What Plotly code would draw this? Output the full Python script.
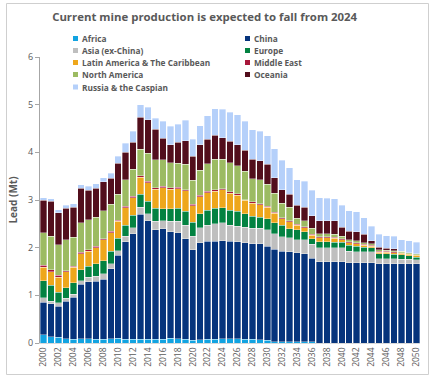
import plotly.graph_objects as go

years = list(range(2000, 2051))

africa = [0.17,0.13,0.12,0.09,0.08,0.09,0.09,0.08,0.08,0.09,
          0.10,0.08,0.08,0.08,0.08,0.08,0.08,0.10,0.09,0.08,
          0.06,0.07,0.08,0.08,0.09,0.09,0.09,0.08,0.08,0.07,
          0.06,0.03,0.03,0.03,0.03,0.03,0.03,0,0,0,
          0,0,0,0,0,0,0,0,0,0,0]
china = [0.69,0.69,0.65,0.79,0.88,1.14,1.19,1.22,1.26,1.47,
         1.74,2.04,2.21,2.62,2.48,2.30,2.32,2.23,2.22,2.11,
         1.90,2.03,2.05,2.05,2.06,2.04,2.03,2.02,2.00,2.01,
         1.97,1.94,1.89,1.88,1.86,1.84,1.75,1.70,1.70,1.70,
         1.70,1.68,1.68,1.68,1.68,1.66,1.66,1.66,1.66,1.66,1.66]
asia = [0.09,0.06,0.07,0.06,0.06,0.08,0.10,0.10,0.11,0.10,
        0.10,0.12,0.13,0.15,0.15,0.17,0.17,0.22,0.24,0.28,
        0.28,0.32,0.34,0.37,0.37,0.34,0.33,0.33,0.33,0.33,
        0.35,0.32,0.31,0.30,0.28,0.30,0.29,0.30,0.30,0.30,
        0.30,0.25,0.23,0.23,0.23,0.11,0.11,0.11,0.10,0.10,0.09]
europe = [0.36,0.33,0.23,0.22,0.24,0.23,0.23,0.26,0.28,0.26,
          0.26,0.23,0.26,0.27,0.26,0.28,0.25,0.27,0.28,0.29,
          0.29,0.29,0.31,0.33,0.32,0.31,0.31,0.28,0.25,0.23,
          0.23,0.23,0.24,0.19,0.21,0.16,0.12,0.12,0.12,0.11,
          0.11,0.12,0.12,0.10,0.09,0.10,0.10,0.09,0.09,0.07,0.05]
latam = [0.28,0.29,0.31,0.33,0.33,0.33,0.32,0.34,0.44,0.39,
         0.35,0.37,0.37,0.36,0.39,0.40,0.44,0.41,0.41,0.43,
         0.35,0.36,0.37,0.35,0.37,0.36,0.34,0.28,0.27,0.26,
         0.24,0.20,0.14,0.14,0.09,0.09,0.07,0.09,0.09,0.09,
         0.06,0.05,0.05,0.04,0.03,0.03,0.03,0.03,0.03,0.03,0.04]
mideast = [0.04,0.04,0.04,0.03,0.02,0.03,0.03,0.03,0.02,0.03,
           0.03,0.03,0.03,0.03,0.03,0.03,0.03,0.03,0.03,0.02,
           0.03,0.03,0.03,0.04,0.03,0.03,0.03,0.02,0.03,0.02,
           0.02,0.02,0.02,0.02,0.02,0.02,0.02,0.02,0.02,0.02,
           0.02,0.02,0.02,0.02,0.02,0.02,0.02,0.02,0.01,0.01,0.01]
namerica = [0.68,0.70,0.64,0.65,0.61,0.62,0.63,0.61,0.58,0.57,
            0.54,0.56,0.56,0.56,0.59,0.58,0.55,0.52,0.50,0.54,
            0.50,0.52,0.58,0.64,0.62,0.61,0.59,0.59,0.49,0.50,
            0.46,0.40,0.30,0.29,0.13,0.13,0.13,0.06,0.06,0.06,
            0.05,0.05,0.05,0.03,0.03,0.04,0.03,0.03,0.04,0.02,0.02]
oceania = [0.68,0.73,0.67,0.66,0.63,0.73,0.61,0.61,0.61,0.55,
           0.65,0.57,0.57,0.67,0.70,0.64,0.46,0.38,0.44,0.49,
           0.51,0.54,0.51,0.50,0.45,0.45,0.44,0.44,0.40,0.40,
           0.42,0.33,0.29,0.27,0.27,0.28,0.26,0.28,0.28,0.28,
           0.19,0.17,0.18,0.18,0.07,0.05,0.04,0.04,0.00,0.00,0.00]
russia = [0.06,0.06,0.07,0.06,0.07,0.07,0.09,0.09,0.09,0.10,
          0.15,0.19,0.23,0.26,0.27,0.24,0.35,0.39,0.38,0.43,
          0.35,0.40,0.50,0.55,0.59,0.61,0.63,0.61,0.62,0.62,
          0.60,0.61,0.61,0.56,0.53,0.54,0.53,0.48,0.47,0.47,
          0.46,0.43,0.42,0.35,0.30,0.27,0.26,0.26,0.24,0.26,0.24]

series_names = ["Africa", "China", "Asia (ex-China)", "Europe",
                "Latin America & The Caribbean", "Middle East",
                "North America", "Oceania", "Russia & the Caspian"]
series_values = [africa, china, asia, europe, latam, mideast, namerica, oceania, russia]
colors = ["#12A3E1", "#06347C", "#BFBFBF", "#038241", "#EEA71C",
          "#A8173A", "#9CBB62", "#520E1C", "#B5D0FA"]

tick_years = list(range(2000, 2051, 2))
y_ticks = [0, 1, 2, 3, 4, 5, 6]

title_text = "Current mine production is expected to fall from 2024"
y_title = "Lead (Mt)"

fig = go.Figure()
for name, vals, col in zip(series_names, series_values, colors):
    fig.add_trace(go.Bar(x=years, y=vals, name=name,
                         marker=dict(color=col, line=dict(color="rgba(255,255,255,0.7)", width=0.5)),
                         showlegend=False))

W, H = 432, 386
ml, mr, mt, mb = 40, 12, 57, 43
pw, ph = W - ml - mr, H - mt - mb

def xp(px):
    return (px - ml) / pw

def yp(py):
    return (H - mb - py) / ph

font_fam = "Open Sans, Liberation Sans, sans-serif"
gray = "#595959"

annotations = []
shapes = []
# manual legend (two columns)
col_x = [73, 245]
row_y = [38.5, 50.5, 62.5, 74.5, 87]
for i, (name, col) in enumerate(zip(series_names, colors)):
    cx = col_x[i % 2]
    cy = row_y[i // 2]
    shapes.append(dict(type="rect", xref="paper", yref="paper",
                       x0=xp(cx), x1=xp(cx + 5), y0=yp(cy + 2.5), y1=yp(cy - 2.5),
                       fillcolor=col, line=dict(width=0)))
    annotations.append(dict(text="<b>" + name + "</b>", xref="paper", yref="paper",
                            x=xp(cx + 7), y=yp(cy), xanchor="left", yanchor="middle",
                            showarrow=False, font=dict(size=8.3, color=gray, family=font_fam)))

# chart frame
shapes.append(dict(type="rect", xref="paper", yref="paper",
                   x0=xp(6.5), x1=xp(428.5), y0=yp(374.5), y1=yp(3.5),
                   line=dict(color="#CFCFCF", width=1), fillcolor="rgba(0,0,0,0)", layer="above"))

fig.update_layout(
    width=W, height=H,
    margin=dict(l=ml, r=mr, t=mt, b=mb),
    barmode="stack", bargap=0.13,
    paper_bgcolor="white", plot_bgcolor="white",
    title=dict(text="<b>" + title_text + "</b>", x=xp(220), xanchor="center",
               y=1 - 17 / H, yanchor="middle",
               font=dict(size=11.4, color=gray, family=font_fam)),
    font=dict(family=font_fam, color=gray),
    xaxis=dict(range=[1999.5, 2050.5], tickvals=tick_years, tickangle=-90,
               tickfont=dict(size=8.5, color=gray), showgrid=False,
               showline=True, linecolor="#D9D9D9", linewidth=1, ticks="", zeroline=False),
    yaxis=dict(range=[0, 6], tickvals=y_ticks, showgrid=False, zeroline=False,
               showline=True, linecolor="#A6A6A6", linewidth=1, ticks="outside",
               ticklen=4, tickcolor="#A6A6A6",
               tickfont=dict(size=9, color=gray),
               title=dict(text="<b>" + y_title + "</b>", font=dict(size=10, color=gray), standoff=8)),
    annotations=annotations,
    shapes=shapes,
)

fig.write_html("out.html", config={"displayModeBar": False},
               post_script="document.body.style.margin='0';")
